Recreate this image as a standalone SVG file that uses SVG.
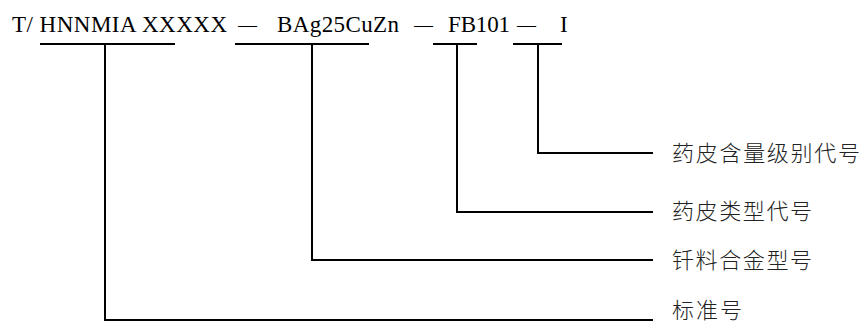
<svg xmlns="http://www.w3.org/2000/svg" width="864" height="324" viewBox="0 0 864 324">
<style>
.code{font-family:"Liberation Serif","Times New Roman",serif;font-size:23px;fill:#000}
.dash{font-family:"Liberation Serif","Times New Roman",serif;font-size:19px;fill:#000}
.lbl{font-family:"Noto Sans CJK SC","Noto Sans CJK JP",sans-serif;font-size:22px;font-weight:300;fill:#222}
.ln{fill:none;stroke:#000;stroke-width:2}
</style>
<rect width="864" height="324" fill="#fff"/>
<g id="code">
<text class="code" x="12" y="32" textLength="215" lengthAdjust="spacing">T/ HNNMIA XXXXX</text>
<text class="dash" x="238" y="31">—</text>
<text class="code" x="277" y="32" textLength="122">BAg25CuZn</text>
<text class="dash" x="414" y="31">—</text>
<text class="code" x="448" y="32" textLength="62">FB101</text>
<text class="dash" x="517" y="31">—</text>
<text class="code" x="560" y="32">I</text>
</g>
<g id="connectors">
<path class="ln" d="M40,44 H175 M105,44 V320 H653"/>
<path class="ln" d="M235,44 H369 M312,44 V260 H653"/>
<path class="ln" d="M433,44 H477 M457,44 V212 H653"/>
<path class="ln" d="M513,44 H562 M538,44 V153 H653"/>
</g>
<g id="n-level"><text class="lbl" x="672" y="161" textLength="188">药皮含量级别代号</text></g>
<g id="n-type"><text class="lbl" x="672" y="219" textLength="140">药皮类型代号</text></g>
<g id="n-alloy"><text class="lbl" x="672" y="268" textLength="140">钎料合金型号</text></g>
<g id="n-std"><text class="lbl" x="672" y="318" textLength="70">标准号</text></g>
</svg>
